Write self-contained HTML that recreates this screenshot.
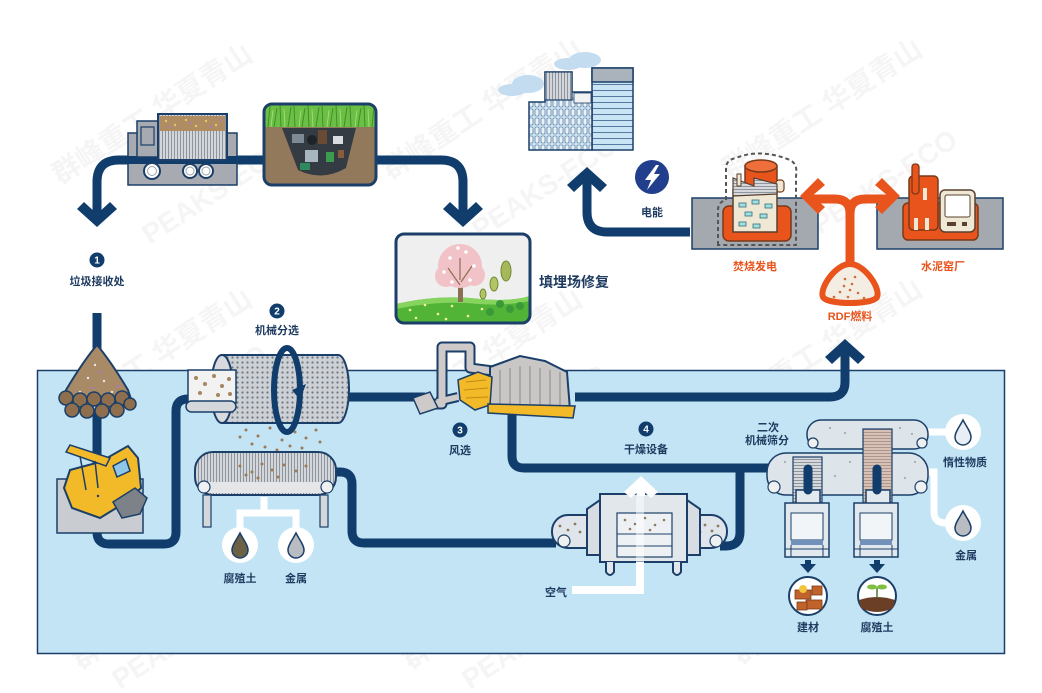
<!DOCTYPE html>
<html><head><meta charset="utf-8">
<style>
html,body{margin:0;padding:0;background:#fff;}
svg{display:block;}
text{font-family:"Liberation Sans","Noto Sans CJK SC",sans-serif;}
</style></head><body>
<svg width="1042" height="693" viewBox="0 0 1042 693" xmlns="http://www.w3.org/2000/svg">
<defs>
<pattern id="dots" width="5" height="5" patternUnits="userSpaceOnUse"><rect width="5" height="5" fill="#cdd1d5"/><circle cx="2.5" cy="2.5" r="1.1" fill="#6f7782"/></pattern>
<pattern id="vstripe" width="3" height="10" patternUnits="userSpaceOnUse"><rect width="3" height="10" fill="#d3d6da"/><rect width="1" height="10" fill="#8e949b"/></pattern>
<pattern id="hstripe" width="10" height="3" patternUnits="userSpaceOnUse"><rect width="10" height="3" fill="#d6d8db"/><rect width="10" height="1" fill="#8f959c"/></pattern>
<pattern id="ostripe" width="10" height="3" patternUnits="userSpaceOnUse"><rect width="10" height="3" fill="#d9c0b4"/><rect width="10" height="1" fill="#a89890"/></pattern>
<pattern id="win" width="6" height="9" patternUnits="userSpaceOnUse"><rect width="6" height="9" fill="#cfe5f4"/><rect x="1" y="1" width="4" height="7" rx="1" fill="#e9f2f9" stroke="#3b5f88" stroke-width="0.6"/></pattern>
<pattern id="hline" width="10" height="6" patternUnits="userSpaceOnUse"><rect width="10" height="6" fill="#c9e4f5"/><rect width="10" height="0.8" fill="#3b5f88"/></pattern>
<clipPath id="lf"><rect x="264" y="104" width="112" height="81" rx="8"/></clipPath>
<clipPath id="tr"><rect x="396" y="234" width="134" height="89" rx="8"/></clipPath>
</defs>

<!-- watermarks -->
<g fill="#000" opacity="0.04" font-size="28" font-weight="bold">
<text transform="translate(60,185) rotate(-33)">群峰重工 华夏青山</text>
<text transform="translate(390,180) rotate(-33)">群峰重工 华夏青山</text>
<text transform="translate(730,180) rotate(-33)">群峰重工 华夏青山</text>
<text transform="translate(60,430) rotate(-33)">群峰重工 华夏青山</text>
<text transform="translate(390,430) rotate(-33)">群峰重工 华夏青山</text>
<text transform="translate(730,420) rotate(-33)">群峰重工 华夏青山</text>
<text transform="translate(80,670) rotate(-33)">群峰重工 华夏青山</text>
<text transform="translate(410,670) rotate(-33)">群峰重工 华夏青山</text>
<text transform="translate(740,665) rotate(-33)">群峰重工 华夏青山</text>
<text transform="translate(150,245) rotate(-33)">PEAKS-ECO</text>
<text transform="translate(480,240) rotate(-33)">PEAKS-ECO</text>
<text transform="translate(820,235) rotate(-33)">PEAKS-ECO</text>
<text transform="translate(130,450) rotate(-33)">PEAKS-ECO</text>
<text transform="translate(470,470) rotate(-33)">PEAKS-ECO</text>
<text transform="translate(800,480) rotate(-33)">PEAKS-ECO</text>
<text transform="translate(120,690) rotate(-33)">PEAKS-ECO</text>
<text transform="translate(470,690) rotate(-33)">PEAKS-ECO</text>
</g>

<!-- panel -->
<rect x="37.5" y="370.5" width="967" height="283" fill="#c3e4f5" stroke="#1b3f68" stroke-width="1.5"/>

<!-- navy flow lines -->
<g stroke="#113d6c" stroke-width="9" fill="none">
<path d="M97,214 V182 Q97,160 119,160 H441 Q463,160 463,182 V214"/>
<path d="M690,232 H607 Q587,232 587,212 V180"/>
<path d="M97,313 V350"/>
<path d="M97,410 V470"/>
<path d="M97,525 V532 Q97,544 109,544 H164 Q176,544 176,532 V411 Q176,399 188,399 H194"/>
<path d="M340,397 H425"/>
<path d="M575,397 H830 Q845,397 845,382 V352"/>
<path d="M330,472 H340 Q352,472 352,484 V531 Q352,543 364,543 H556"/>
<path d="M512,410 V456 Q512,468 524,468 H907" stroke-linecap="round"/>
<path d="M740,468 V532 Q740,546 726,546 H720"/>
</g>
<g fill="#113d6c">
<polygon points="97,227 117,209 110,202 97,214 84,202 77,209"/>
<polygon points="463,227 483,209 476,202 463,214 450,202 443,209"/>
<polygon points="587,167 607,185 600,192 587,180 574,192 567,185"/>
<polygon points="845,339 865,357 858,364 845,352 832,364 825,357"/>
</g>

<!-- truck -->
<rect x="128" y="133" width="109" height="52" fill="#a7abb1" stroke="#1b3f68" stroke-width="1.5"/>
<rect x="128" y="156" width="109" height="8" fill="#113d6c"/>
<rect x="137" y="121" width="22" height="36" fill="#a7abb1" stroke="#1b3f68" stroke-width="1.5"/>
<rect x="141" y="127" width="13" height="18" fill="#a7abb1" stroke="#1b3f68" stroke-width="1.2"/>
<rect x="158" y="114" width="69" height="46" fill="url(#vstripe)" stroke="#1b3f68" stroke-width="2"/>
<rect x="160" y="116" width="65" height="15" fill="#b08c62"/>
<g fill="#e8c46a"><circle cx="166" cy="121" r="1.2"/><circle cx="175" cy="125" r="1.2"/><circle cx="186" cy="120" r="1.2"/><circle cx="196" cy="126" r="1.2"/><circle cx="206" cy="121" r="1.2"/><circle cx="216" cy="125" r="1.2"/></g>
<g fill="#a77fc0"><circle cx="170" cy="127" r="1.2"/><circle cx="191" cy="123" r="1.2"/><circle cx="211" cy="127" r="1.2"/><circle cx="221" cy="120" r="1.2"/></g>
<g fill="#fff" stroke="#1b3f68" stroke-width="2">
<circle cx="152" cy="171" r="8"/><circle cx="190" cy="171" r="7"/><circle cx="206" cy="171" r="7"/>
</g>
<g fill="none" stroke="#9aa3ad" stroke-width="1"><circle cx="152" cy="171" r="4.5"/><circle cx="190" cy="171" r="4"/><circle cx="206" cy="171" r="4"/></g>

<!-- landfill -->
<g clip-path="url(#lf)">
<rect x="264" y="104" width="112" height="81" fill="#93795c"/>
<rect x="264" y="104" width="112" height="23" fill="#6cbf45"/>
<g stroke="#3f8f2a" stroke-width="1">
<path d="M268,127 L270,106 M274,127 L277,108 M281,127 L280,105 M288,127 L291,107 M295,127 L294,106 M302,127 L305,108 M309,127 L308,105 M316,127 L319,107 M323,127 L322,106 M330,127 L333,108 M337,127 L336,105 M344,127 L347,107 M351,127 L350,106 M358,127 L361,108 M365,127 L364,105 M372,127 L374,107"/>
</g>
<g stroke="#a9e07c" stroke-width="0.8"><path d="M271,127 L273,110 M285,127 L284,109 M299,127 L301,110 M313,127 L312,109 M327,127 L329,110 M341,127 L340,109 M355,127 L357,110 M369,127 L368,109"/></g>
<path d="M282,128 L356,128 L346,168 Q322,182 298,170 Z" fill="#353b42"/>
<rect x="292" y="134" width="12" height="9" fill="#7d8a95"/>
<rect x="318" y="130" width="9" height="14" fill="#6b4a33"/>
<rect x="333" y="136" width="10" height="8" fill="#d9dde0"/>
<rect x="305" y="150" width="13" height="12" fill="#a8b6bf"/>
<rect x="326" y="152" width="8" height="10" fill="#3c9b4e"/>
<rect x="300" y="163" width="10" height="7" fill="#2e8a5e"/>
<rect x="338" y="150" width="6" height="8" fill="#8a5a3a"/>
<circle cx="312" cy="140" r="5" fill="#1e2328"/>
</g>
<rect x="264" y="104" width="112" height="81" rx="8" fill="none" stroke="#1b3f68" stroke-width="3"/>

<!-- tree box -->
<g clip-path="url(#tr)">
<rect x="396" y="234" width="134" height="89" fill="#efefef"/>
<path d="M396,304 Q440,294 480,299 Q510,302 530,296 V323 H396 Z" fill="#52b437"/>
<path d="M396,304 Q440,294 480,299 Q510,302 530,296 V301 Q505,306 478,304 Q440,300 396,309 Z" fill="#86d45e"/>
<g fill="#f6f3a0"><circle cx="410" cy="310" r="1.3"/><circle cx="425" cy="305" r="1.3"/><circle cx="438" cy="314" r="1.3"/><circle cx="452" cy="306" r="1.3"/><circle cx="468" cy="316" r="1.3"/><circle cx="482" cy="309" r="1.3"/><circle cx="416" cy="318" r="1.3"/><circle cx="446" cy="319" r="1.3"/></g>
<rect x="458" y="276" width="5" height="26" fill="#8b6f52"/>
<circle cx="460" cy="266" r="22" fill="#f2c2c9"/>
<circle cx="446" cy="276" r="11" fill="#f2c2c9"/><circle cx="474" cy="275" r="11" fill="#f2c2c9"/>
<g stroke="#8b6f52" stroke-width="1.2" fill="none"><path d="M460,285 L448,268 M461,282 L472,266 M460,280 L460,258"/></g>
<g fill="#fff"><circle cx="450" cy="258" r="1.8"/><circle cx="466" cy="252" r="1.8"/><circle cx="474" cy="266" r="1.8"/><circle cx="444" cy="272" r="1.8"/><circle cx="458" cy="248" r="1.8"/><circle cx="470" cy="280" r="1.8"/><circle cx="452" cy="282" r="1.8"/></g>
<ellipse cx="506" cy="271" rx="5" ry="10" fill="#a6b85a" stroke="#6e8a33" stroke-width="1"/>
<ellipse cx="494" cy="284" rx="4" ry="7" fill="#b3c465" stroke="#6e8a33" stroke-width="1"/>
<ellipse cx="483" cy="294" rx="3" ry="5" fill="#b3c465" stroke="#6e8a33" stroke-width="1"/>
<g fill="#3a9a3a"><circle cx="500" cy="304" r="4"/><circle cx="510" cy="309" r="4"/><circle cx="490" cy="312" r="4"/><circle cx="520" cy="306" r="4"/></g>
</g>
<rect x="396" y="234" width="134" height="89" rx="8" fill="none" stroke="#1b3f68" stroke-width="3"/>

<!-- building -->
<g fill="#c4dcef"><ellipse cx="512" cy="90" rx="14" ry="6"/><ellipse cx="528" cy="84" rx="16" ry="9"/><ellipse cx="568" cy="64" rx="14" ry="6"/><ellipse cx="585" cy="60" rx="16" ry="8"/></g>
<rect x="592" y="68" width="41" height="82" fill="url(#hline)" stroke="#1b3f68" stroke-width="1.5"/>
<rect x="592" y="68" width="41" height="14" fill="#aab3bc" stroke="#1b3f68" stroke-width="1.5"/>
<path d="M529,102 H545 V72 H572 V92 H592 V150 H529 Z" fill="url(#win)" stroke="#1b3f68" stroke-width="1.5"/>
<rect x="545" y="72" width="27" height="28" fill="url(#vstripe)" stroke="#1b3f68" stroke-width="1.2"/>
<rect x="574" y="93" width="17" height="10" fill="#f2f2f2" stroke="#1b3f68" stroke-width="0.8"/>

<!-- lightning -->
<circle cx="652" cy="177" r="17" fill="#213f8c"/>
<path d="M656,165 L645,180 H651 L647,190 L660,174 H654 L659,165 Z" fill="#fff"/>

<!-- incineration -->
<rect x="692" y="198" width="126" height="51" fill="#a4a9b0" stroke="#1b3f68" stroke-width="1.5"/>
<path d="M718,245 V210 Q718,202 726,200 V168 Q726,160 736,158 Q760,148 790,160 Q798,164 796,176 V245 Z" fill="none" stroke="#555" stroke-width="2" stroke-dasharray="4,3"/>
<rect x="723" y="206" width="68" height="35" rx="6" fill="#e8541c" stroke="#7a3a1a" stroke-width="1.5"/>
<rect x="745" y="166" width="32" height="26" fill="#e8541c" stroke="#7a3a1a" stroke-width="1.5"/>
<ellipse cx="761" cy="166" rx="16" ry="6" fill="#ef6f3a" stroke="#7a3a1a" stroke-width="1.5"/>
<rect x="776" y="180" width="8" height="12" rx="3" fill="#efe8d4" stroke="#7a3a1a" stroke-width="1.2"/>
<rect x="733" y="190" width="44" height="42" fill="#efe8d4" stroke="#5a4030" stroke-width="1.5"/>
<path d="M733,190 L733,178 L754,186 L754,178 L777,184 V194 L733,196 Z" fill="url(#hstripe)" stroke="#5a4030" stroke-width="1.2"/>
<rect x="737" y="174" width="4" height="12" fill="#efe8d4" stroke="#5a4030" stroke-width="1"/>
<g fill="#9fe0e0" stroke="#3b6b7a" stroke-width="0.8"><rect x="739" y="203" width="7" height="4"/><rect x="752" y="200" width="7" height="4"/><rect x="765" y="204" width="7" height="4"/><rect x="745" y="212" width="7" height="4"/><rect x="760" y="214" width="7" height="4"/><rect x="739" y="222" width="7" height="4"/><rect x="753" y="224" width="7" height="4"/></g>

<!-- cement -->
<rect x="877" y="198" width="126" height="51" fill="#a4a9b0" stroke="#1b3f68" stroke-width="1.5"/>
<rect x="903" y="203" width="75" height="37" rx="5" fill="#e8541c" stroke="#7a3a1a" stroke-width="1.5"/>
<rect x="909" y="176" width="29" height="54" rx="4" fill="#e8541c" stroke="#7a3a1a" stroke-width="1.5"/>
<rect x="912" y="164" width="7" height="30" rx="3" fill="#e8541c" stroke="#7a3a1a" stroke-width="1.3"/>
<rect x="923" y="188" width="4" height="12" fill="#efe8d4"/>
<rect x="914" y="218" width="4" height="12" fill="#efe8d4"/><rect x="925" y="218" width="4" height="12" fill="#efe8d4"/>
<rect x="940" y="190" width="35" height="42" rx="5" fill="#efe8d4" stroke="#5a4030" stroke-width="1.5"/>
<rect x="945" y="195" width="25" height="22" rx="2" fill="#fff" stroke="#5a4030" stroke-width="1"/>
<rect x="947" y="222" width="9" height="4" fill="#5a4030"/><rect x="962" y="222" width="5" height="4" fill="#5a4030"/>

<!-- orange T arrow -->
<g stroke="#e8541c" stroke-width="9" fill="none">
<path d="M850,266 V214 Q850,199 835,199 H810"/>
<path d="M850,214 Q850,199 865,199 H890"/>
</g>
<g fill="#e8541c">
<polygon points="800,196 818,178 825,185 812,196 825,207 818,214"/>
<polygon points="900,196 882,178 875,185 888,196 875,207 882,214"/>
</g>
<path d="M850,264 C865,264 881,289 877,297 C873,305 827,305 823,297 C819,289 835,264 850,264 Z" fill="#f4ede4" stroke="#e8541c" stroke-width="6"/>
<g fill="#d46a35"><circle cx="845" cy="279" r="1.3"/><circle cx="852" cy="284" r="1.3"/><circle cx="840" cy="292" r="1.3"/><circle cx="858" cy="293" r="1.3"/><circle cx="848" cy="297" r="1.3"/><circle cx="855" cy="277" r="1.3"/><circle cx="834" cy="297" r="1.3"/><circle cx="864" cy="298" r="1.3"/><circle cx="850" cy="290" r="1.3"/><circle cx="844" cy="286" r="1.3"/></g>

<!-- pile -->
<path d="M97,345 Q110,360 128,390 L132,402 H62 L66,390 Q84,360 97,345 Z" fill="#a88a66" stroke="#1b3f68" stroke-width="2"/>
<g fill="#fff" opacity="0.8"><circle cx="95" cy="365" r="1.2"/><circle cx="88" cy="378" r="1.2"/><circle cx="104" cy="381" r="1.2"/><circle cx="112" cy="392" r="1.2"/><circle cx="80" cy="392" r="1.2"/></g>
<g fill="#b56fd0"><circle cx="100" cy="372" r="1.2"/><circle cx="92" cy="388" r="1.2"/><circle cx="118" cy="386" r="1.2"/></g>
<g fill="#8e6e4c" stroke="#1b3f68" stroke-width="1.5">
<circle cx="66" cy="398" r="7"/><circle cx="80" cy="400" r="7"/><circle cx="94" cy="399" r="7"/><circle cx="108" cy="400" r="7"/><circle cx="122" cy="398" r="7"/><circle cx="130" cy="404" r="6"/>
<circle cx="72" cy="410" r="7"/><circle cx="87" cy="411" r="7"/><circle cx="102" cy="411" r="7"/><circle cx="117" cy="410" r="7"/>
</g>

<!-- excavator -->
<rect x="57" y="479" width="86" height="54" fill="#c9cdd2" stroke="#1b3f68" stroke-width="1.5"/>
<polygon points="64,488 70,470 100,462 128,446 138,458 141,488 126,502 100,518 72,508" fill="#f2b928" stroke="#1b3f68" stroke-width="2"/>
<polygon points="66,452 70,445 110,458 106,466" fill="#f2b928" stroke="#1b3f68" stroke-width="1.5"/>
<path d="M80,456 L86,490 M95,461 L98,488" stroke="#1b3f68" stroke-width="1.5"/>
<polygon points="113,466 126,459 130,471 117,477" fill="#8fc7ea" stroke="#1b3f68" stroke-width="1.5"/>
<polygon points="113,502 135,488 147,498 140,514 122,518" fill="#7d8288" stroke="#1b3f68" stroke-width="1.5"/>
<circle cx="98" cy="496" r="1.2" fill="#1b3f68"/>

<!-- drum -->
<path d="M222,355 H338 A11,34 0 0 1 338,423 H222 Z" fill="url(#dots)" stroke="#1b3f68" stroke-width="2"/>
<ellipse cx="222" cy="389" rx="11" ry="34" fill="#d8dadd" stroke="#1b3f68" stroke-width="2"/>
<rect x="188" y="370" width="48" height="33" fill="#f2f2f2" stroke="#1b3f68" stroke-width="1.5"/>
<g fill="#a5865f"><circle cx="196" cy="378" r="2"/><circle cx="205" cy="384" r="2"/><circle cx="214" cy="376" r="2"/><circle cx="222" cy="386" r="2"/><circle cx="229" cy="379" r="2"/><circle cx="200" cy="393" r="2"/><circle cx="218" cy="395" r="2"/><circle cx="230" cy="394" r="2"/></g>
<rect x="186" y="401" width="50" height="11" rx="5.5" fill="#d5d8db" stroke="#1b3f68" stroke-width="1.5"/>
<ellipse cx="287" cy="390" rx="13" ry="42" fill="none" stroke="#113d6c" stroke-width="6"/>
<polygon points="292,390 306,384 300,400" fill="#113d6c"/>
<g fill="#9b7b55"><circle cx="246" cy="430" r="1.5"/><circle cx="258" cy="436" r="1.5"/><circle cx="270" cy="428" r="1.5"/><circle cx="282" cy="440" r="1.5"/><circle cx="295" cy="432" r="1.5"/><circle cx="306" cy="438" r="1.5"/><circle cx="316" cy="430" r="1.5"/><circle cx="252" cy="444" r="1.5"/><circle cx="265" cy="447" r="1.5"/><circle cx="277" cy="450" r="1.5"/><circle cx="290" cy="446" r="1.5"/><circle cx="302" cy="448" r="1.5"/><circle cx="240" cy="437" r="1.5"/><circle cx="320" cy="442" r="1.5"/></g>

<!-- conveyor 1 -->
<rect x="195" y="452" width="141" height="43" rx="18" fill="url(#vstripe)" stroke="#1b3f68" stroke-width="2"/>
<g fill="#9b7b55"><circle cx="240" cy="466" r="1.5"/><circle cx="252" cy="472" r="1.5"/><circle cx="262" cy="464" r="1.5"/><circle cx="272" cy="470" r="1.5"/><circle cx="284" cy="465" r="1.5"/><circle cx="296" cy="471" r="1.5"/><circle cx="258" cy="478" r="1.5"/><circle cx="278" cy="477" r="1.5"/><circle cx="246" cy="475" r="1.5"/><circle cx="306" cy="466" r="1.5"/></g>
<rect x="200" y="482" width="131" height="11" fill="#e4e6e8"/>
<g fill="#eef0f2" stroke="#1b3f68" stroke-width="1.2"><circle cx="204" cy="487" r="6"/><circle cx="327" cy="487" r="6"/></g>
<rect x="203" y="495" width="8" height="32" fill="#d5d8db" stroke="#1b3f68" stroke-width="1.2"/>
<rect x="320" y="495" width="8" height="32" fill="#d5d8db" stroke="#1b3f68" stroke-width="1.2"/>
<path d="M264,497 V513 M240,530 V513 H296 V530" stroke="#fff" stroke-width="7" fill="none"/>
<circle cx="240" cy="545" r="18" fill="#fff"/><circle cx="296" cy="545" r="18" fill="#fff"/>
<path d="M240,533 C243,539 248,545 248,550 A8,8 0 0 1 232,550 C232,545 237,539 240,533 Z" fill="#6b6245" stroke="#1b3f68" stroke-width="1.5"/>
<path d="M296,533 C299,539 304,545 304,550 A8,8 0 0 1 288,550 C288,545 293,539 296,533 Z" fill="#b9bdc1" stroke="#1b3f68" stroke-width="1.5"/>

<!-- wind separator -->
<g fill="none" stroke-linejoin="round">
<path d="M426,404 H442 V347 H470 V368 L547,378" stroke="#1b3f68" stroke-width="11"/>
<path d="M437,402 L458,397" stroke="#1b3f68" stroke-width="10"/>
<path d="M426,404 H442 V347 H470 V368 L547,378" stroke="#cfcaca" stroke-width="7"/>
<path d="M437,402 L458,397" stroke="#cfcaca" stroke-width="6"/>
</g>
<polygon points="413,398 430,392 438,408 420,414" fill="#cfcaca" stroke="#1b3f68" stroke-width="1.5"/>
<polygon points="490,367 520,356 545,361 567,372 570,410 490,407" fill="#c9c6c6" stroke="#1b3f68" stroke-width="2"/>
<g stroke="#8c8888" stroke-width="1"><path d="M500,370 V405 M510,368 V406 M520,366 V407 M530,366 V407 M540,368 V408 M550,370 V408 M560,372 V409"/></g>
<polygon points="458,380 478,372 492,377 490,405 475,410 460,400" fill="#f2b928" stroke="#1b3f68" stroke-width="1.5"/>
<polygon points="488,404 575,406 573,418 488,413" fill="#f2b928" stroke="#1b3f68" stroke-width="1.5"/>
<g stroke="#c48a10" stroke-width="1"><path d="M466,382 L486,380 M464,390 L488,388 M466,398 L488,397"/></g>

<!-- dryer -->
<rect x="552" y="515" width="175" height="33" rx="16" fill="#dfe5ea" stroke="#1b3f68" stroke-width="2"/>
<g fill="#8a7a60"><circle cx="560" cy="526" r="1.4"/><circle cx="568" cy="530" r="1.4"/><circle cx="575" cy="524" r="1.4"/><circle cx="580" cy="532" r="1.4"/><circle cx="705" cy="525" r="1.4"/><circle cx="712" cy="531" r="1.4"/><circle cx="718" cy="526" r="1.4"/><circle cx="700" cy="532" r="1.4"/></g>
<g fill="#eef0f2" stroke="#1b3f68" stroke-width="1.2"><circle cx="564" cy="541" r="6"/><circle cx="716" cy="541" r="6"/></g>
<path d="M587,555 V509 L600,500 H687 L700,509 V555 Z" fill="#d7dde2" stroke="#1b3f68" stroke-width="2"/>
<rect x="600" y="494" width="87" height="68" fill="#e2e7eb" stroke="#1b3f68" stroke-width="2"/>
<rect x="617" y="513" width="55" height="44" fill="#eef1f3" stroke="#1b3f68" stroke-width="1.2"/>
<path d="M617,534 H672 M617,546 H672" stroke="#1b3f68" stroke-width="1"/>
<g fill="#8a7a60"><circle cx="625" cy="520" r="1.3"/><circle cx="635" cy="524" r="1.3"/><circle cx="645" cy="518" r="1.3"/><circle cx="655" cy="525" r="1.3"/><circle cx="664" cy="520" r="1.3"/><circle cx="630" cy="529" r="1.3"/><circle cx="650" cy="530" r="1.3"/></g>
<path d="M606,562 V572 Q610,578 614,572 V562 M673,562 V572 Q677,578 681,572 V562" fill="#e2e7eb" stroke="#1b3f68" stroke-width="2"/>
<path d="M572,590 H640 V562" stroke="#fff" stroke-width="8" fill="none"/>
<path d="M640,562 V492" stroke="#fff" stroke-width="8" opacity="0.5"/>
<polygon points="641,476 658,492 651,498 641,489 631,498 624,492" fill="#fff"/>
<rect x="637" y="488" width="8" height="8" fill="#fff"/>

<!-- secondary screening -->
<path d="M928,432 H946" stroke="#fff" stroke-width="7"/>
<path d="M926,472 H934 V512 Q934,523 946,523" stroke="#fff" stroke-width="7" fill="none"/>
<rect x="807" y="420" width="121" height="29" rx="14" fill="#dde4ea" stroke="#1b3f68" stroke-width="1.5"/>
<rect x="767" y="453" width="161" height="42" rx="19" fill="#dde4ea" stroke="#1b3f68" stroke-width="1.5"/>
<g fill="#eef0f2" stroke="#1b3f68" stroke-width="1.2"><circle cx="813" cy="443" r="5"/><circle cx="922" cy="443" r="5"/><circle cx="774" cy="487" r="6"/><circle cx="921" cy="487" r="6"/></g>
<g fill="#9aa0a6"><circle cx="830" cy="428" r="1"/><circle cx="845" cy="433" r="1"/><circle cx="900" cy="428" r="1"/><circle cx="912" cy="434" r="1"/><circle cx="785" cy="462" r="1"/><circle cx="835" cy="476" r="1"/><circle cx="850" cy="462" r="1"/><circle cx="905" cy="478" r="1"/><circle cx="915" cy="462" r="1"/></g>
<rect x="793" y="457" width="29" height="46" fill="url(#hstripe)" stroke="#1b3f68" stroke-width="1.2"/>
<rect x="863" y="429" width="29" height="74" fill="url(#ostripe)" stroke="#1b3f68" stroke-width="1.2"/>
<g fill="#e1e8ee" stroke="#1b3f68" stroke-width="1.5">
<path d="M796,503 V490 H820 V503"/>
<rect x="785" y="503" width="44" height="54"/>
<path d="M866,503 V490 H890 V503"/>
<rect x="854" y="503" width="44" height="54"/>
</g>
<g fill="#f2f5f7" stroke="#1b3f68" stroke-width="1"><rect x="791" y="513" width="32" height="27"/><rect x="860" y="513" width="32" height="27"/></g>
<rect x="791" y="540" width="32" height="5" fill="#7191bb"/><rect x="860" y="540" width="32" height="5" fill="#7191bb"/>
<path d="M785,549 H829 M854,549 H898 M791,545 V557 M823,545 V557 M860,545 V557 M892,545 V557" stroke="#1b3f68" stroke-width="1"/>
<g stroke="#113d6c" stroke-width="9" stroke-linecap="round"><path d="M808,469 V490 M877,469 V490"/></g>
<g fill="#113d6c">
<rect x="805" y="560" width="6" height="5"/><polygon points="800,564 816,564 808,573"/>
<rect x="874" y="560" width="6" height="5"/><polygon points="869,564 885,564 877,573"/>
</g>
<circle cx="808" cy="596" r="19" fill="#fff" stroke="#1b3f68" stroke-width="2"/>
<g fill="#c0632b" stroke="#7a3a1a" stroke-width="0.8"><rect x="795" y="590" width="16" height="9"/><rect x="806" y="600" width="16" height="9"/><rect x="797" y="602" width="10" height="8"/><rect x="812" y="586" width="10" height="9"/></g>
<circle cx="803" cy="589" r="4" fill="#f2c53d"/>
<circle cx="877" cy="596" r="19" fill="#fff" stroke="#1b3f68" stroke-width="2"/>
<path d="M859,600 Q877,594 895,600 L893,608 Q877,616 861,608 Z" fill="#6b3e26"/>
<path d="M877,598 V588" stroke="#4a7a2a" stroke-width="1.5"/>
<ellipse cx="872" cy="587" rx="5" ry="2.5" fill="#7fbf3f"/><ellipse cx="882" cy="587" rx="5" ry="2.5" fill="#7fbf3f"/>
<circle cx="963" cy="432" r="18" fill="#fff"/>
<path d="M963,420 C966,426 971,432 971,437 A8,8 0 0 1 955,437 C955,432 960,426 963,420 Z" fill="#e8eef3" stroke="#1b3f68" stroke-width="1.5"/>
<circle cx="963" cy="523" r="18" fill="#fff"/>
<path d="M963,511 C966,517 971,523 971,528 A8,8 0 0 1 955,528 C955,523 960,517 963,511 Z" fill="#b9bdc1" stroke="#1b3f68" stroke-width="1.5"/>

<!-- number badges -->
<g fill="#113d6c"><circle cx="97" cy="260" r="7.5"/><circle cx="277" cy="311" r="7.5"/><circle cx="460" cy="430" r="7.5"/><circle cx="646" cy="429" r="7.5"/></g>
<g fill="#fff" font-size="10" font-weight="bold" text-anchor="middle">
<text x="97" y="263.5">1</text><text x="277" y="314.5">2</text><text x="460" y="433.5">3</text><text x="646" y="432.5">4</text>
</g>

<!-- labels -->
<g fill="#1e3a5f" font-size="11" font-weight="bold" text-anchor="middle">
<text x="97" y="285">垃圾接收处</text>
<text x="277" y="334">机械分选</text>
<text x="460" y="454">风选</text>
<text x="646" y="453">干燥设备</text>
<text x="768" y="431">二次</text>
<text x="767" y="444">机械筛分</text>
<text x="240" y="582">腐殖土</text>
<text x="296" y="582">金属</text>
<text x="556" y="596">空气</text>
<text x="808" y="631">建材</text>
<text x="877" y="631">腐殖土</text>
<text x="965" y="466">惰性物质</text>
<text x="966" y="559">金属</text>
<text x="652" y="216">电能</text>
</g>
<text x="539" y="287" fill="#1e3a5f" font-size="14" font-weight="bold">填埋场修复</text>
<g fill="#e8541c" font-size="11" font-weight="bold" text-anchor="middle">
<text x="755" y="270">焚烧发电</text>
<text x="943" y="270">水泥窑厂</text>
<text x="850" y="320">RDF燃料</text>
</g>
</svg>
</body></html>
